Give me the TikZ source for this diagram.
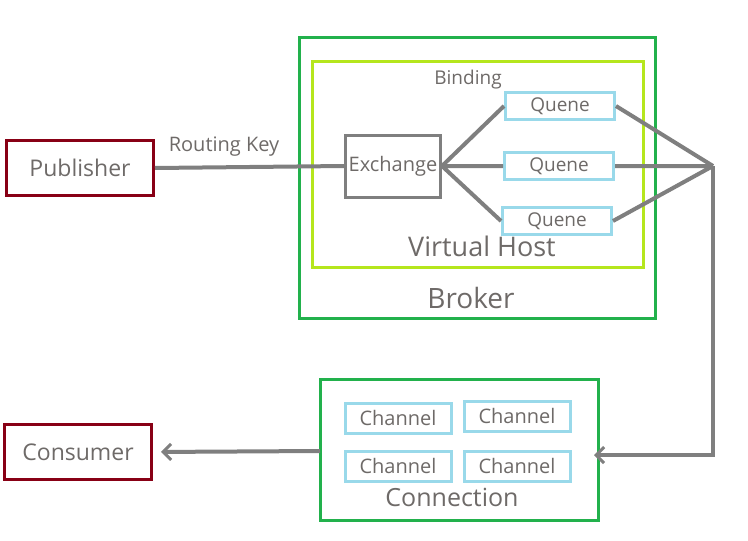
\documentclass[tikz,border=0pt]{standalone}
\usepackage{fontspec}
\setmainfont{Open Sans}
\usetikzlibrary{arrows.meta}
\definecolor{pubred}{RGB}{136,0,21}
\definecolor{brokergreen}{RGB}{34,177,76}
\definecolor{hostlime}{RGB}{181,230,29}
\definecolor{chanblue}{RGB}{153,217,234}
\definecolor{wire}{RGB}{127,127,127}
\definecolor{ink}{RGB}{110,106,104}
\newcommand{\fs}[1]{\fontsize{#1}{#1}\selectfont}
\tikzset{
  client/.style={draw=pubred, line width=3pt, minimum width=147pt, minimum height=55pt, text=ink, font=\fs{23}},
  exbox/.style={draw=wire, line width=3pt, minimum width=95pt, minimum height=62pt, inner sep=1pt, text=ink, font=\fs{20}},
  qbox/.style={draw=chanblue, line width=3pt, minimum width=109pt, minimum height=27pt, inner sep=1pt, text=ink, font=\fs{19}},
  chbox/.style={draw=chanblue, line width=3pt, minimum width=106pt, minimum height=30pt, inner sep=1pt, text=ink, font=\fs{20}},
  tag/.style={text=ink, inner sep=0pt},
  link/.style={draw=wire, line width=4pt},
  flow/.style={link, -{Straight Barb[length=8pt, width=16pt, line width=3pt]}}
}
\begin{document}
\begin{tikzpicture}[x=1pt, y=-1pt]
  \useasboundingbox (0, 0) rectangle (748, 541);
  % broker and virtual host
  \draw[brokergreen, line width=3pt] (299, 37) rectangle (655, 318);
  \draw[hostlime, line width=3pt] (312, 61) rectangle (643, 267);
  \draw[brokergreen, line width=3pt] (320, 379) rectangle (598, 520);
  \node (broker) [tag, font=\fs{28}] at (471, 298) {Broker};
  \node (vhost) [tag, font=\fs{27}] at (482, 246) {Virtual Host};
  \node (conn) [tag, font=\fs{25}] at (452, 497) {Connection};
  \node (binding) [tag, font=\fs{19}] at (468, 80) {Binding};
  \node (rk) [tag, font=\fs{20}] at (224, 147) {Routing Key};
  % boxes
  \node (pub) [client] at (80, 168) {Publisher};
  \node (cons) [client] at (78, 452) {Consumer};
  \node (ex) [exbox] at (393, 166) {Exchange};
  \node (q1) [qbox] at (560, 106) {Quene};
  \node (q2) [qbox] at (559, 166) {Quene};
  \node (q3) [qbox] at (557, 221) {Quene};
  \node (ch1) [chbox] at (398, 418) {Channel};
  \node (ch2) [chbox] at (517, 416) {Channel};
  \node (ch3) [chbox] at (398, 466) {Channel};
  \node (ch4) [chbox] at (517, 466) {Channel};
  \coordinate (hub) at (713, 166);
  \coordinate (connright) at (598, 455);
  \coordinate (connleft) at (320, 451);
  % wires
  \draw[link] (pub.east) -- (ex.west);
  \draw[link] (ex.east) -- (q1.west)
              (ex.east) -- (q2.west)
              (ex.east) -- (q3.west);
  \draw[link] (q1.east) -- (hub)
              (q2.east) -- (hub)
              (q3.east) -- (hub);
  \draw[flow, shorten >=-4pt] (hub) |- (connright);
  \draw[flow, shorten >=8pt] (connleft) -- (cons.east);
\end{tikzpicture}
\end{document}
